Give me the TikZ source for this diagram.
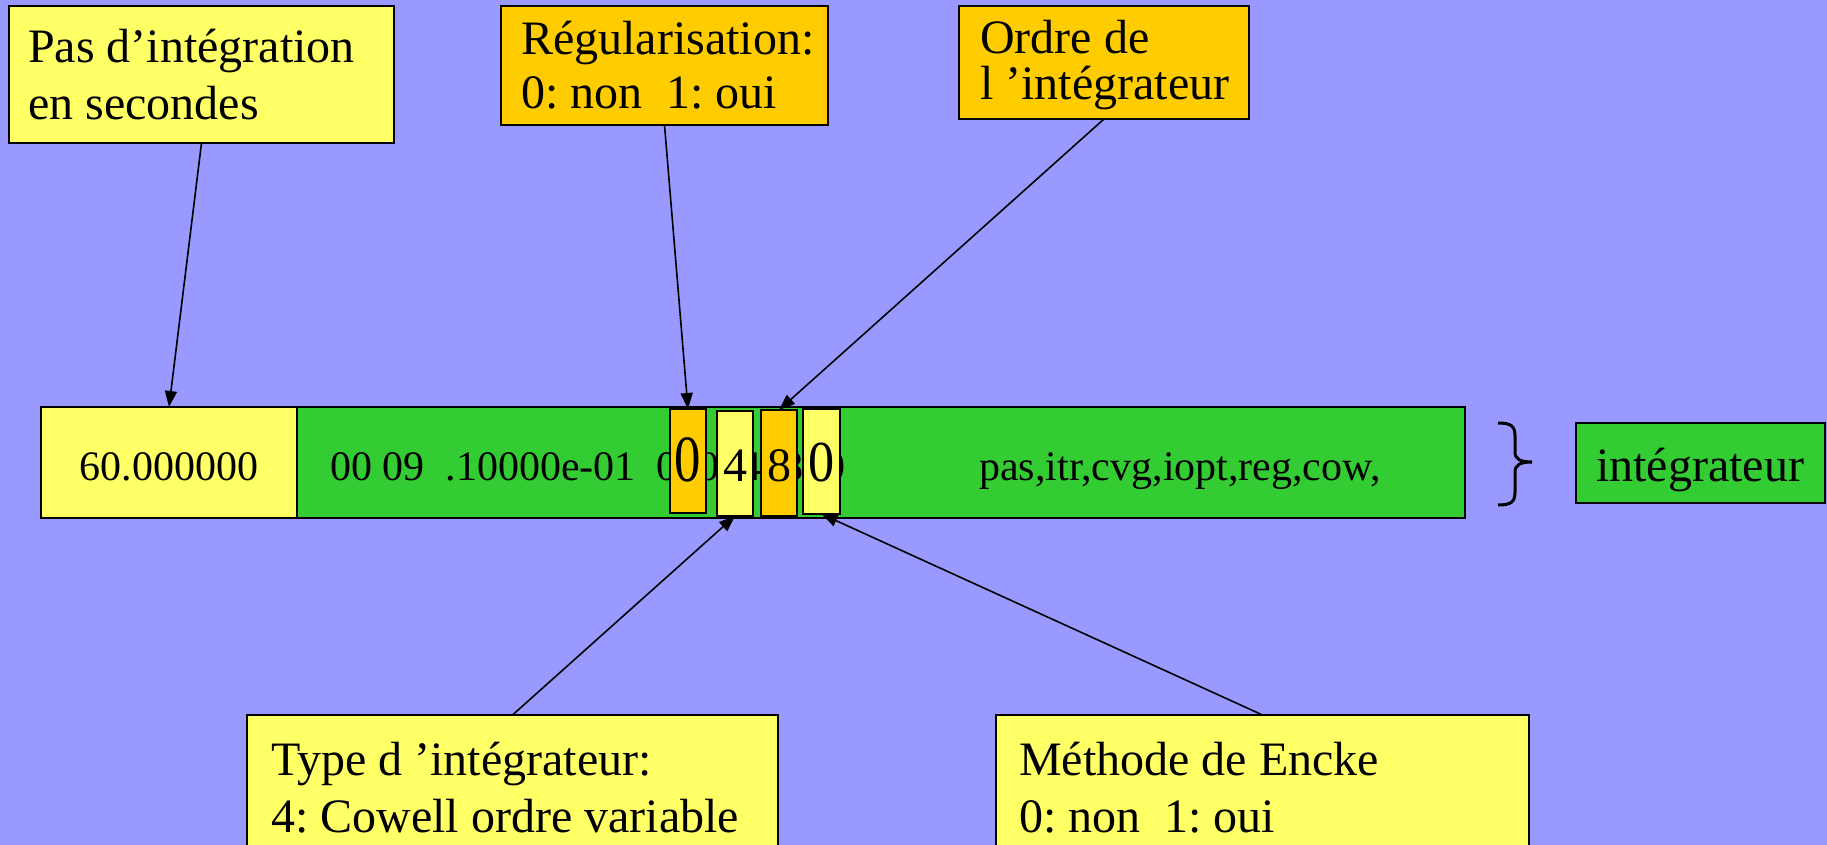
\documentclass[tikz,border=0pt]{standalone}
\usepackage{fontspec}
\usepackage{graphicx}
\setmainfont{Liberation Serif}
\usetikzlibrary{arrows.meta}
\definecolor{bgblue}{HTML}{9999FF}
\definecolor{paleyellow}{HTML}{FFFF66}
\definecolor{gold}{HTML}{FFCC00}
\definecolor{leafgreen}{HTML}{33CC33}
\frenchspacing

\begin{document}
\begin{tikzpicture}[x=1pt,y=-1pt,
  box/.style={draw=black, line width=2pt, inner sep=0pt, outer sep=0pt},
  cell/.style={draw=black, line width=1.5pt, inner sep=0pt, outer sep=0pt, minimum width=36pt},
  label/.style={anchor=base west, inner sep=0pt, font=\fontsize{48}{57}\selectfont},
  bartext/.style={inner sep=0pt, font=\fontsize{42}{50}\selectfont},
  digit/.style={anchor=base, inner sep=0pt},
  pointer/.style={line width=1.6pt, -{Triangle[length=16pt,width=12pt]}},
]
% page and background
\useasboundingbox (0,0) rectangle (1827,845);
\clip (0,0) rectangle (1827,845);
\fill[bgblue] (0,0) rectangle (1827,845);

% header boxes
\node[box, fill=paleyellow, minimum width=385pt, minimum height=137pt] (pas) at (201.5,74.5) {};
\node[label] (pas1) at (28,63) {Pas d’intégration};
\node[label] (pas2) at (28,120) {en secondes};

\node[box, fill=gold, minimum width=327pt, minimum height=119pt] (reg) at (664.5,65.5) {};
\node[label] (reg1) at (521,55) {Régularisation:};
\node[label] (reg2) at (521,109) {0: non\ \ 1: oui};

\node[box, fill=gold, minimum width=290pt, minimum height=113pt] (ordre) at (1104,62.5) {};
\node[label] (ordre1) at (980,54) {Ordre de};
\node[label] (ordre2) at (980,100) {l ’intégrateur};

% the integrator record
\node[box, fill=leafgreen, minimum width=1424pt, minimum height=111pt] (bar) at (753,462.5) {};
\node[box, fill=paleyellow, minimum width=256pt, minimum height=111pt] (v60) at (169,462.5) {};
\node[bartext, anchor=base] (t60) at (169,480) {60.000000};
\node[bartext, anchor=base west] (tmid) at (330,480) {00 09\ \ .10000e-01\ \ 0\ \ 0\ \ 4\ \ 8\ \ 0};
\node[bartext, anchor=base west] (tnames) at (979,480) {pas,itr,cvg,iopt,reg,cow,};

% highlighted fields
\node[cell, fill=gold, minimum height=104pt] (b0) at (688,461) {};
\node[cell, fill=paleyellow, minimum height=105pt] (b4) at (735,463.5) {};
\node[cell, fill=gold, minimum height=106pt] (b8) at (779,463) {};
\node[cell, fill=paleyellow, minimum width=37pt, minimum height=105pt] (bz) at (821.5,461.5) {};
\node[digit, font=\fontsize{66}{66}\selectfont] (d0) at (688,481) {\scalebox{0.8}[1]{0}};
\node[digit, font=\fontsize{48}{48}\selectfont] (d4) at (735,481) {4};
\node[digit, font=\fontsize{48}{48}\selectfont] (d8) at (779,481) {8};
\node[digit, font=\fontsize{58}{58}\selectfont] (dz) at (821.5,481) {\scalebox{0.9}[1]{0}};

% brace and section name
\draw[line width=3pt] (1498,423) .. controls (1511,423) and (1515,426) .. (1515,436)
  -- (1515,452) .. controls (1515,459) and (1520,462) .. (1532,462)
  .. controls (1520,462) and (1515,465) .. (1515,472)
  -- (1515,492) .. controls (1515,502) and (1511,505) .. (1498,505);
\node[box, fill=leafgreen, line width=1.5pt, minimum width=249pt, minimum height=80pt] (integ) at (1700.5,463) {};
\node[label, anchor=base] (integt) at (1700,481) {intégrateur};

% lower boxes
\node[box, fill=paleyellow, minimum width=531pt, minimum height=185pt] (type) at (512.5,807.5) {};
\node[label] (type1) at (271,775) {Type d ’intégrateur:};
\node[label] (type2) at (271,832) {4: Cowell ordre variable};

\node[box, fill=paleyellow, minimum width=533pt, minimum height=185pt] (encke) at (1262.5,807.5) {};
\node[label] (encke1) at (1019,775) {Méthode de Encke};
\node[label] (encke2) at (1019,832) {0: non\ \ 1: oui};

% pointers
\draw[pointer] (pas.south) -- (v60.north);
\draw[pointer] (reg.south) -- (b0.north);
\draw[pointer] (ordre.south) -- (b8.north);
\draw[pointer] (type.north) -- (b4.south);
\draw[pointer] (encke.north) -- (bz.south);
\end{tikzpicture}
\end{document}
